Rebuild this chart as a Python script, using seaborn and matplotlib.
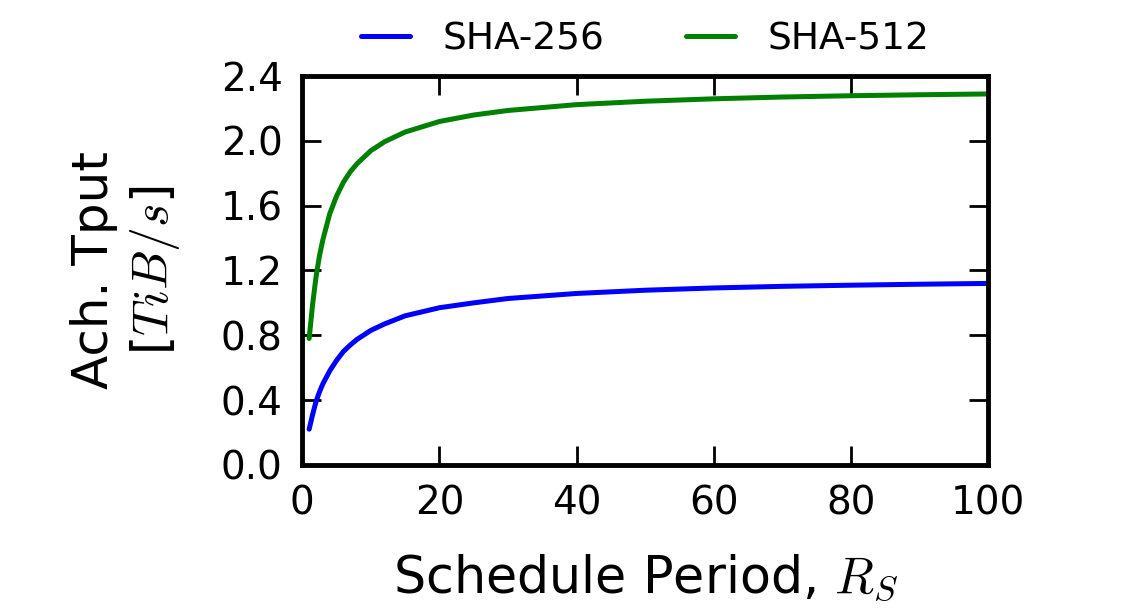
import matplotlib
matplotlib.use("Agg")
import matplotlib.pyplot as plt
import seaborn as sns
import pandas as pd

period = [1, 1.5, 2, 2.5, 3, 4, 5, 6, 7, 8, 10, 12, 15, 20, 25, 30, 40, 50, 60, 70, 80, 90, 100]
sha256 = [0.22, 0.31, 0.39, 0.45, 0.50, 0.58, 0.645, 0.70, 0.74, 0.775, 0.83, 0.87, 0.92,
          0.97, 1.00, 1.027, 1.058, 1.078, 1.092, 1.102, 1.109, 1.115, 1.12]
sha512 = [0.78, 0.99, 1.16, 1.29, 1.39, 1.55, 1.66, 1.745, 1.81, 1.86, 1.94, 1.995, 2.055,
          2.12, 2.16, 2.188, 2.224, 2.245, 2.26, 2.271, 2.279, 2.285, 2.29]

df = pd.DataFrame({"period": period * 2,
                   "tput": sha256 + sha512,
                   "algo": ["SHA-256"] * len(period) + ["SHA-512"] * len(period)})

sns.set_style("ticks")
plt.rcParams["font.family"] = ["DejaVu Sans"]
plt.rcParams["mathtext.fontset"] = "cm"
plt.rcParams["xtick.direction"] = "in"
plt.rcParams["ytick.direction"] = "in"
for k in ["text.color", "axes.labelcolor", "xtick.color", "ytick.color"]:
    plt.rcParams[k] = "black"

fig = plt.figure(figsize=(11.28, 6.14), dpi=100)
ax = fig.add_axes([0.268, 0.243, 0.608, 0.633])
sns.lineplot(data=df, x="period", y="tput", hue="algo",
             palette={"SHA-256": "#0000ff", "SHA-512": "#008000"},
             linewidth=3.6, ax=ax)

ax.set_xlim(0, 100)
ax.set_ylim(0, 2.4)
ax.set_xticks([0, 20, 40, 60, 80, 100])
ax.set_yticks([0.0, 0.4, 0.8, 1.2, 1.6, 2.0, 2.4])
ax.set_yticklabels(["0.0", "0.4", "0.8", "1.2", "1.6", "2.0", "2.4"])
ax.tick_params(which="both", top=True, right=True, length=14, width=2,
               labelsize=28, pad=14, color="black", labelcolor="black")
for sp in ax.spines.values():
    sp.set_linewidth(3.5)
    sp.set_color("black")

ax.set_xlabel("Schedule Period, $R_S$", fontsize=36.5, labelpad=22)
ax.set_ylabel("Ach. Tput\n[$TiB/s$]", fontsize=36, labelpad=28, linespacing=1.25)

ax.legend(loc="lower center", bbox_to_anchor=(0.5, 1.01), ncol=2, frameon=False,
          fontsize=27, handlelength=1.3, columnspacing=2.2, handletextpad=0.85,
          borderaxespad=0.0)

fig.savefig("out.png", dpi=100)
